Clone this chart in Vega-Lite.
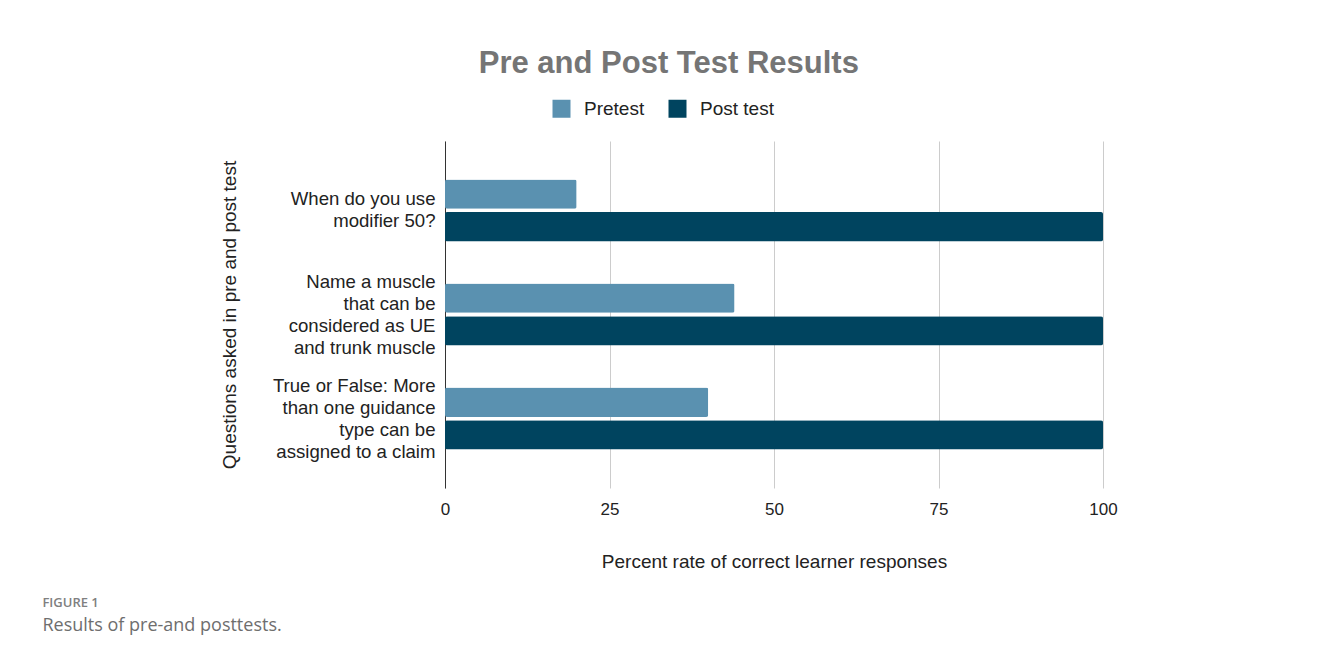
{
  "$schema": "https://vega.github.io/schema/vega-lite/v6.json",
  "background": "white",
  "padding": {"left": 42, "top": 48, "right": 10, "bottom": 2},
  "config": {
    "font": "Arial, Liberation Sans, sans-serif",
    "view": {"stroke": null}
  },
  "title": {
    "text": "FIGURE 1",
    "subtitle": "Results of pre-and posttests.",
    "orient": "bottom",
    "anchor": "start",
    "frame": "bounds",
    "dx": -178,
    "offset": 26,
    "font": "Open Sans",
    "fontSize": 13,
    "fontWeight": 600,
    "color": "#808080",
    "subtitleFont": "Open Sans",
    "subtitleFontSize": 18,
    "subtitleColor": "#6e6e6e",
    "subtitlePadding": 7
  },
  "vconcat": [
    {
      "width": 658,
      "height": 347,
      "title": {
        "text": "Pre and Post Test Results",
        "anchor": "middle",
        "frame": "bounds",
        "font": "Arial, Liberation Sans, sans-serif",
        "fontSize": 31,
        "fontWeight": "bold",
        "color": "#757575",
        "offset": 61
      },
      "data": {
        "values": [
          {"question": "When do you use modifier 50?", "test": "Pretest", "percent": 20},
          {"question": "When do you use modifier 50?", "test": "Post test", "percent": 100},
          {"question": "Name a muscle that can be considered as UE and trunk muscle", "test": "Pretest", "percent": 44},
          {"question": "Name a muscle that can be considered as UE and trunk muscle", "test": "Post test", "percent": 100},
          {"question": "True or False: More than one guidance type can be assigned to a claim", "test": "Pretest", "percent": 40},
          {"question": "True or False: More than one guidance type can be assigned to a claim", "test": "Post test", "percent": 100}
        ]
      },
      "mark": {"type": "bar", "cornerRadius": 2},
      "encoding": {
        "y": {
          "field": "question",
          "type": "nominal",
          "sort": null,
          "scale": {"paddingInner": 0.404, "paddingOuter": 0.37},
          "axis": {
            "title": "Questions asked in pre and post test",
            "titleFontSize": 19,
            "titleFontWeight": "normal",
            "titleColor": "#222222",
            "titlePadding": 33,
            "labelExpr": "datum.value == 'When do you use modifier 50?' ? ['When do you use', 'modifier 50?'] : datum.value == 'Name a muscle that can be considered as UE and trunk muscle' ? ['Name a muscle', 'that can be', 'considered as UE', 'and trunk muscle'] : ['True or False: More', 'than one guidance', 'type can be', 'assigned to a claim']",
            "labelOffset": {"condition": {"test": "datum.value == 'When do you use modifier 50?'", "value": -11}, "value": -33},
            "labelFontSize": 18.6,
            "labelColor": "#222222",
            "labelLineHeight": 22,
            "labelPadding": 10,
            "labelLimit": 300,
            "ticks": false,
            "domainColor": "#333333",
            "domainWidth": 1,
            "grid": false
          }
        },
        "yOffset": {
          "field": "test",
          "type": "nominal",
          "sort": ["Pretest", "Post test"],
          "scale": {"paddingInner": 0.1}
        },
        "x": {
          "field": "percent",
          "type": "quantitative",
          "scale": {"domain": [0, 100], "nice": false},
          "axis": {
            "values": [0, 25, 50, 75, 100],
            "grid": true,
            "gridColor": "#cccccc",
            "domain": false,
            "ticks": false,
            "labelFlush": false,
            "labelFontSize": 17,
            "labelColor": "#222222",
            "labelPadding": 13,
            "title": "Percent rate of correct learner responses",
            "titleFontSize": 19,
            "titleFontWeight": "normal",
            "titleColor": "#222222",
            "titlePadding": 35
          }
        },
        "color": {
          "field": "test",
          "type": "nominal",
          "scale": {"domain": ["Pretest", "Post test"], "range": ["#5a91b0", "#00445f"]},
          "legend": {
            "orient": "none",
            "legendX": 107,
            "legendY": -42,
            "direction": "horizontal",
            "title": null,
            "symbolType": "square",
            "symbolSize": 324,
            "symbolStrokeWidth": 0,
            "labelFontSize": 19,
            "labelColor": "#222222",
            "columnPadding": 23,
            "labelOffset": 13
          }
        }
      }
    }
  ]
}
